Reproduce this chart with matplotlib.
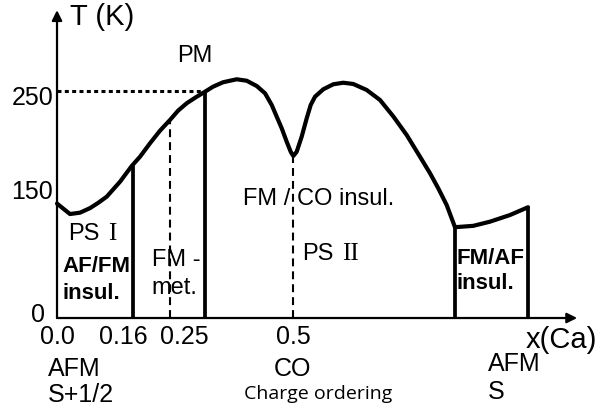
import matplotlib.pyplot as plt

plt.rcParams['font.family'] = ['Liberation Sans', 'DejaVu Sans']

# phase boundary T(x)
x_curve = [0.0, 0.0275, 0.0487, 0.0699, 0.0869, 0.1053, 0.1335, 0.1583, 0.1758,
           0.1970, 0.2182, 0.2394, 0.2564, 0.2748, 0.2960, 0.3136, 0.3305, 0.3517,
           0.3807, 0.4019, 0.4231, 0.4407, 0.4549, 0.4655, 0.4761, 0.4866, 0.4951,
           0.5006, 0.5078, 0.5184, 0.5290, 0.5375, 0.5466, 0.5642, 0.5854, 0.6066,
           0.6278, 0.6561, 0.6843, 0.7125, 0.7409, 0.7691, 0.7903, 0.8078, 0.8256,
           0.8432, 0.8820, 0.9174, 0.9597, 0.9980]
t_curve = [126, 114.5, 116, 121, 126.7, 133.6, 150.1, 167.4, 177.6,
           192.4, 206.3, 218.1, 228.3, 236.5, 243.7, 249.2, 254.7, 259.6,
           262.9, 261.3, 255.5, 247.5, 234.6, 221.7, 208.9, 194.2, 183.1,
           178.4, 183.1, 199.7, 219.9, 234.6, 243.7, 251.9, 257.4, 259.1,
           257.7, 251.1, 240.1, 222, 201.5, 177.6, 159.4, 142.8, 124.4,
           100, 101.5, 106.1, 113.4, 122]

# region borders: x position and height where they meet the curve
solid_x = [0.16, 0.3136, 0.8432, 0.998]
solid_top = [167, 249, 100, 122]
dashed_x = [0.2394, 0.5006]
dashed_top = [218, 178]

t_dotted = 250
x_dotted_end = 0.3136

ytick_vals = [250, 150, 0]
ytick_labels = ['250', '150', '0']
xtick_pos = [0.0, 0.14, 0.27, 0.5]
xtick_labels = ['0.0', '0.16', '0.25', '0.5']

fig = plt.figure(figsize=(6.03, 4.08), dpi=100)
ax = fig.add_axes([0, 0, 1, 1])
ax.set_xlim(-0.1208, 1.1568)
ax.set_ylim(-99.1, 350.2)
ax.axis('off')

# axes with arrows
arrow = dict(arrowstyle='-|>', color='k', lw=1.6, mutation_scale=15,
             shrinkA=0, shrinkB=0)
ax.annotate('', xy=(0, 339), xytext=(0, 0), arrowprops=arrow)
ax.annotate('', xy=(1.102, 0), xytext=(0, 0), arrowprops=arrow)

ax.plot(x_curve, t_curve, color='k', lw=3.0, solid_joinstyle='round',
        solid_capstyle='round')

for xv, top in zip(solid_x, solid_top):
    ax.plot([xv, xv], [0, top], color='k', lw=2.7, solid_capstyle='butt')
for xv, top in zip(dashed_x, dashed_top):
    ax.plot([xv, xv], [0, top], color='k', lw=1.5, dashes=(3.8, 2.4))

ax.plot([0, x_dotted_end], [t_dotted, t_dotted], color='k', lw=2.2,
        dashes=(1.3, 1.1))

# tick labels
for v, lab in zip(ytick_vals, ytick_labels):
    off = {250: -7, 150: -10, 0: 3}[v]
    ax.annotate(lab, xy=(0, v), xytext=(-4 if v else -12, off),
                textcoords='offset pixels', ha='right', va='center',
                fontsize=18)
for p, lab in zip(xtick_pos, xtick_labels):
    ax.text(p, -21, lab, ha='center', va='center', fontsize=18)

ax.text(0.095, 331, 'T (K)', ha='center', va='center', fontsize=21)
ax.text(1.068, -24, 'x(Ca)', ha='center', va='center', fontsize=21)
ax.text(0.292, 289, 'PM', ha='center', va='center', fontsize=17)

# PS I region
ax.text(0.023, 93, 'PS', ha='left', va='center', fontsize=17)
ax.text(0.108, 93, 'I', ha='left', va='center', fontsize=18,
        family='Liberation Serif')
ax.text(0.0106, 57, 'AF/FM', ha='left', va='center', fontsize=16,
        fontweight='bold')
ax.text(0.0106, 27, 'insul.', ha='left', va='center', fontsize=16,
        fontweight='bold')

# FM metal
ax.text(0.201, 64, 'FM -', ha='left', va='center', fontsize=17)
ax.text(0.201, 33, 'met.', ha='left', va='center', fontsize=17)

# PS II region
ax.text(0.555, 131, 'FM / CO insul.', ha='center', va='center', fontsize=17)
ax.text(0.519, 70, 'PS', ha='left', va='center', fontsize=17)
ax.text(0.604, 70, 'II', ha='left', va='center', fontsize=18,
        family='Liberation Serif')

ax.text(0.847, 66, 'FM/AF', ha='left', va='center', fontsize=16,
        fontweight='bold')
ax.text(0.847, 38, 'insul.', ha='left', va='center', fontsize=16,
        fontweight='bold')

# ground states below the axis
ax.text(-0.019, -56, 'AFM', ha='left', va='center', fontsize=18)
ax.text(-0.019, -85, 'S+1/2', ha='left', va='center', fontsize=18)
ax.text(0.498, -56, 'CO', ha='center', va='center', fontsize=18)
ax.text(0.553, -84, 'Charge ordering', ha='center', va='center', fontsize=14,
        family='Open Sans')
ax.text(0.913, -51, 'AFM', ha='left', va='center', fontsize=18)
ax.text(0.913, -81, 'S', ha='left', va='center', fontsize=18)

fig.savefig('out.png', dpi=100)
